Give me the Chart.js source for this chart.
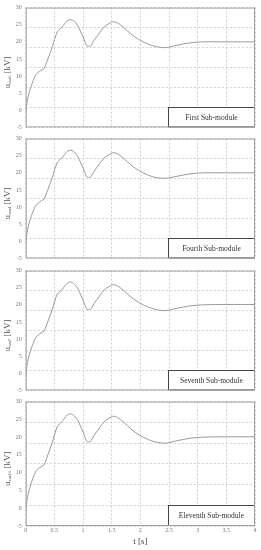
<!DOCTYPE html>
<html>
<head>
<meta charset="utf-8">
<script src="https://cdn.jsdelivr.net/npm/chart.js@4.4.0/dist/chart.umd.min.js"></script>
<style>
  body { margin: 0; background: #fff; width: 261px; height: 550px; overflow: hidden; position: relative; }
  canvas { position: absolute; left: 0; }
</style>
</head>
<body>
<canvas id="p1"></canvas>
<canvas id="p2"></canvas>
<canvas id="p3"></canvas>
<canvas id="p4"></canvas>
<script>
// time samples [s]
const times = [0, 0.03, 0.06, 0.1, 0.13, 0.17, 0.22, 0.27, 0.32, 0.38, 0.46, 0.55, 0.64, 0.72, 0.78, 0.84, 0.9, 0.96,
  1.01, 1.07, 1.13, 1.19, 1.28, 1.36, 1.45, 1.54, 1.65, 1.77, 1.88, 2.06, 2.23, 2.43, 2.64, 2.87, 3.1, 3.5, 4.0];

// sub-module voltages [kV]
const usm1 = [-0.5, 3.0, 5.1, 7.3, 8.6, 10.2, 11.1, 11.7, 12.2, 14.7, 18.3, 22.9, 24.4, 26.1, 26.5, 26.1, 25.0, 22.9,
  21.1, 18.8, 18.8, 20.4, 22.4, 24.2, 25.3, 25.9, 25.0, 23.3, 21.7, 19.9, 18.8, 18.3, 19.0, 19.7, 20.0, 20.0, 20.0];
const usm4 = [-0.5, 3.2, 5.3, 7.5, 8.8, 10.3, 11.2, 11.8, 12.3, 14.8, 18.4, 23.0, 24.5, 26.2, 26.6, 26.2, 25.0, 22.9,
  21.0, 18.8, 18.8, 20.4, 22.4, 24.2, 25.3, 25.9, 25.0, 23.3, 21.7, 19.9, 18.8, 18.4, 19.0, 19.7, 20.0, 20.0, 20.0];
const usm7 = [-0.5, 3.1, 5.2, 7.4, 8.7, 10.3, 11.2, 11.8, 12.3, 14.8, 18.5, 23.1, 24.6, 26.3, 26.7, 26.2, 25.0, 22.9,
  21.0, 18.7, 18.7, 20.3, 22.4, 24.2, 25.3, 25.9, 25.0, 23.3, 21.7, 19.9, 18.8, 18.3, 19.0, 19.7, 20.0, 20.1, 20.1];
const usm11 = [-0.5, 3.0, 5.1, 7.3, 8.6, 10.2, 11.1, 11.7, 12.2, 14.7, 18.3, 22.9, 24.5, 26.2, 26.6, 26.1, 25.0, 22.9,
  21.1, 18.8, 18.8, 20.4, 22.4, 24.2, 25.3, 25.9, 25.0, 23.3, 21.7, 19.9, 18.8, 18.3, 19.0, 19.7, 20.0, 20.1, 20.1];

const xTicks = [0, 0.5, 1, 1.5, 2, 2.5, 3, 3.5, 4];
const yTicks = [-5, 0, 5, 10, 15, 20, 25, 30];

const panels = [
  { id: 'p1', sub: 'sm1', name: 'First Sub-module', values: usm1 },
  { id: 'p2', sub: 'sm4', name: 'Fourth Sub-module', values: usm4 },
  { id: 'p3', sub: 'sm7', name: 'Seventh Sub-module', values: usm7 },
  { id: 'p4', sub: 'sm11', name: 'Eleventh Sub-module', values: usm11 }
];

const SERIF = '"Liberation Serif", "DejaVu Serif", serif';
const AREA_TOP = [5.7, 137.2, 268.7, 400.2];
const AREA_H = 127.5;

// frame, y title with subscript, and the boxed label
const panelDeco = {
  id: 'panelDeco',
  afterDraw(chart, args, opts) {
    const { ctx, chartArea: a, scales } = chart;
    ctx.save();
    // label box
    const bx = scales.x.getPixelForValue(2.48);
    const by = scales.y.getPixelForValue(0.9);
    ctx.fillStyle = '#fff';
    ctx.fillRect(bx, by, a.right - bx, a.bottom - by);
    ctx.strokeStyle = '#444';
    ctx.lineWidth = 1;
    ctx.strokeRect(Math.round(bx) + 0.5, Math.round(by) + 0.5, a.right - Math.round(bx) - 1, a.bottom - Math.round(by) - 1);
    ctx.fillStyle = '#333';
    ctx.font = '7.5px ' + SERIF;
    ctx.textAlign = 'center';
    ctx.textBaseline = 'middle';
    ctx.fillText(opts.name, (bx + a.right) / 2, (by + a.bottom) / 2 + 1);
    // frame
    ctx.strokeStyle = '#a0a0a0';
    ctx.strokeRect(a.left + 0.5, a.top + 0.5, a.width - 1, a.height - 1);
    // y title
    ctx.translate(8, (a.top + a.bottom) / 2 + 5);
    ctx.rotate(-Math.PI / 2);
    ctx.fillStyle = '#555';
    ctx.textAlign = 'left';
    ctx.textBaseline = 'middle';
    ctx.font = '9px ' + SERIF;
    const w1 = ctx.measureText('u').width;
    ctx.font = '5px ' + SERIF;
    const w2 = ctx.measureText(opts.sub).width;
    ctx.font = '9px ' + SERIF;
    const w3 = ctx.measureText(' [kV]').width;
    let x0 = -(w1 + w2 + w3) / 2;
    ctx.fillText('u', x0, 0);
    ctx.font = '5px ' + SERIF;
    ctx.fillText(opts.sub, x0 + w1, 2);
    ctx.font = '9px ' + SERIF;
    ctx.fillText(' [kV]', x0 + w1 + w2, 0);
    ctx.restore();
  }
};

panels.forEach((p, i) => {
  const last = i === panels.length - 1;
  const canvas = document.getElementById(p.id);
  const top = AREA_TOP[i] - 6;
  const height = last ? 550 - top : AREA_H + 6 + 2;
  canvas.width = 261;
  canvas.height = height;
  canvas.style.top = top + 'px';

  new Chart(canvas.getContext('2d'), {
    type: 'line',
    data: {
      datasets: [{
        data: times.map((t, k) => ({ x: t, y: p.values[k] })),
        borderColor: '#9a9a9a',
        borderWidth: 1,
        pointRadius: 0,
        tension: 0.3,
        fill: false
      }]
    },
    options: {
      responsive: false,
      animation: false,
      devicePixelRatio: 1,
      layout: { padding: { top: 6, right: 6, left: 0, bottom: last ? 2 : (height - 6 - AREA_H) } },
      plugins: {
        legend: { display: false },
        tooltip: { enabled: false },
        panelDeco: { name: p.name, sub: p.sub }
      },
      scales: {
        x: {
          type: 'linear',
          min: 0,
          max: 4,
          afterBuildTicks: (s) => { s.ticks = xTicks.map(v => ({ value: v })); },
          ticks: {
            display: last,
            padding: 1,
            color: '#777',
            font: { family: SERIF, size: 6 },
            callback: (v) => String(v)
          },
          grid: { color: '#c4c4c4', lineWidth: 0.8, drawTicks: false },
          border: { display: false, dash: [2, 2] },
          title: {
            display: last,
            text: 't [s]',
            color: '#444',
            font: { family: SERIF, size: 9 },
            padding: { top: 1, bottom: 0 }
          }
        },
        y: {
          min: -5,
          max: 30,
          afterBuildTicks: (s) => { s.ticks = yTicks.map(v => ({ value: v })); },
          afterFit: (s) => { s.width = 25.7; },
          ticks: {
            padding: 4,
            color: '#777',
            font: { family: SERIF, size: 6 }
          },
          grid: { display: false, drawTicks: false },
          border: { display: false }
        },
        yg: {
          position: 'right',
          min: 0,
          max: 6,
          ticks: { display: false, stepSize: 1 },
          afterFit: (s) => { s.width = 0; },
          grid: { color: '#c4c4c4', lineWidth: 0.8, drawTicks: false },
          border: { display: false, dash: [2, 2] }
        }
      }
    },
    plugins: [panelDeco]
  });
});
</script>
</body>
</html>
